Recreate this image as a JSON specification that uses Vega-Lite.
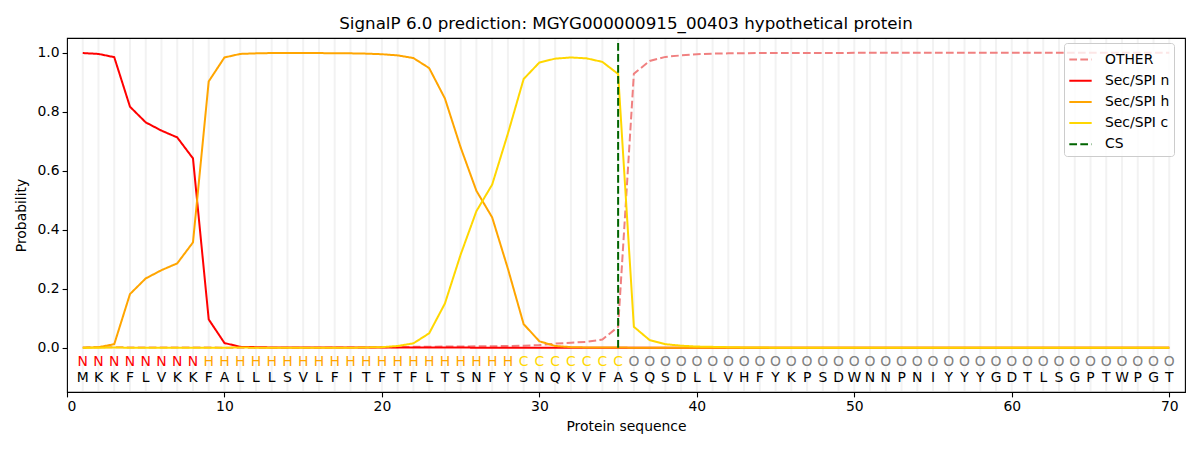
{
  "$schema": "https://vega.github.io/schema/vega-lite/v6.json",
  "width": 1118,
  "height": 354,
  "autosize": "none",
  "padding": {"left": 67, "top": 38, "right": 15, "bottom": 58},
  "title": {
    "text": "SignalP 6.0 prediction: MGYG000000915_00403 hypothetical protein",
    "fontSize": 16.7,
    "fontWeight": "normal",
    "font": "DejaVu Sans",
    "color": "black",
    "offset": 5
  },
  "config": {
    "font": "DejaVu Sans",
    "view": {"stroke": "black", "strokeWidth": 1.1},
    "axis": {
      "grid": false,
      "domain": false,
      "tickColor": "black",
      "tickSize": 4.9,
      "tickWidth": 1.1,
      "labelPadding": 3,
      "labelFontSize": 13.9,
      "labelColor": "black",
      "labelFont": "DejaVu Sans",
      "titleFontSize": 13.9,
      "titleFontWeight": "normal",
      "titleColor": "black",
      "titleFont": "DejaVu Sans"
    },
    "axisX": {"titlePadding": 6},
    "axisY": {"titlePadding": 9},
    "legend": {
      "orient": "none",
      "legendX": 997,
      "legendY": 5,
      "fillColor": "rgba(255,255,255,0.8)",
      "strokeColor": "#cccccc",
      "cornerRadius": 3,
      "padding": 4,
      "labelFontSize": 13.9,
      "labelColor": "black",
      "labelFont": "DejaVu Sans",
      "symbolType": "stroke",
      "symbolStrokeWidth": 2,
      "symbolSize": 500,
      "rowPadding": 1.2,
      "labelOffset": 12
    }
  },
  "data": {
    "values": [
      {"pos": 1, "aa": "M", "lab": "N", "other": 0.001, "n": 0.999, "h": 0.000, "c": 0.000},
      {"pos": 2, "aa": "K", "lab": "N", "other": 0.002, "n": 0.996, "h": 0.002, "c": 0.000},
      {"pos": 3, "aa": "K", "lab": "N", "other": 0.002, "n": 0.985, "h": 0.012, "c": 0.001},
      {"pos": 4, "aa": "F", "lab": "N", "other": 0.001, "n": 0.817, "h": 0.182, "c": 0.000},
      {"pos": 5, "aa": "L", "lab": "N", "other": 0.001, "n": 0.764, "h": 0.235, "c": 0.000},
      {"pos": 6, "aa": "V", "lab": "N", "other": 0.001, "n": 0.736, "h": 0.263, "c": 0.000},
      {"pos": 7, "aa": "K", "lab": "N", "other": 0.001, "n": 0.713, "h": 0.286, "c": 0.000},
      {"pos": 8, "aa": "K", "lab": "N", "other": 0.001, "n": 0.642, "h": 0.357, "c": 0.000},
      {"pos": 9, "aa": "F", "lab": "H", "other": 0.001, "n": 0.096, "h": 0.903, "c": 0.000},
      {"pos": 10, "aa": "A", "lab": "H", "other": 0.000, "n": 0.016, "h": 0.984, "c": 0.000},
      {"pos": 11, "aa": "L", "lab": "H", "other": 0.000, "n": 0.003, "h": 0.996, "c": 0.001},
      {"pos": 12, "aa": "L", "lab": "H", "other": 0.000, "n": 0.002, "h": 0.998, "c": 0.000},
      {"pos": 13, "aa": "L", "lab": "H", "other": 0.000, "n": 0.001, "h": 0.999, "c": 0.000},
      {"pos": 14, "aa": "S", "lab": "H", "other": 0.000, "n": 0.001, "h": 0.999, "c": 0.000},
      {"pos": 15, "aa": "V", "lab": "H", "other": 0.000, "n": 0.001, "h": 0.999, "c": 0.000},
      {"pos": 16, "aa": "L", "lab": "H", "other": 0.000, "n": 0.001, "h": 0.999, "c": 0.000},
      {"pos": 17, "aa": "F", "lab": "H", "other": 0.001, "n": 0.001, "h": 0.998, "c": 0.000},
      {"pos": 18, "aa": "I", "lab": "H", "other": 0.001, "n": 0.001, "h": 0.998, "c": 0.000},
      {"pos": 19, "aa": "T", "lab": "H", "other": 0.001, "n": 0.001, "h": 0.997, "c": 0.001},
      {"pos": 20, "aa": "F", "lab": "H", "other": 0.002, "n": 0.001, "h": 0.995, "c": 0.002},
      {"pos": 21, "aa": "T", "lab": "H", "other": 0.002, "n": 0.001, "h": 0.991, "c": 0.006},
      {"pos": 22, "aa": "F", "lab": "H", "other": 0.003, "n": 0.001, "h": 0.982, "c": 0.015},
      {"pos": 23, "aa": "L", "lab": "H", "other": 0.003, "n": 0.001, "h": 0.948, "c": 0.049},
      {"pos": 24, "aa": "T", "lab": "H", "other": 0.004, "n": 0.001, "h": 0.845, "c": 0.150},
      {"pos": 25, "aa": "S", "lab": "H", "other": 0.004, "n": 0.001, "h": 0.679, "c": 0.316},
      {"pos": 26, "aa": "N", "lab": "H", "other": 0.005, "n": 0.000, "h": 0.532, "c": 0.463},
      {"pos": 27, "aa": "F", "lab": "H", "other": 0.005, "n": 0.000, "h": 0.442, "c": 0.553},
      {"pos": 28, "aa": "Y", "lab": "H", "other": 0.006, "n": 0.000, "h": 0.268, "c": 0.726},
      {"pos": 29, "aa": "S", "lab": "C", "other": 0.007, "n": 0.000, "h": 0.080, "c": 0.911},
      {"pos": 30, "aa": "N", "lab": "C", "other": 0.009, "n": 0.000, "h": 0.022, "c": 0.967},
      {"pos": 31, "aa": "Q", "lab": "C", "other": 0.014, "n": 0.000, "h": 0.006, "c": 0.980},
      {"pos": 32, "aa": "K", "lab": "C", "other": 0.017, "n": 0.000, "h": 0.002, "c": 0.984},
      {"pos": 33, "aa": "V", "lab": "C", "other": 0.020, "n": 0.000, "h": 0.001, "c": 0.981},
      {"pos": 34, "aa": "F", "lab": "C", "other": 0.028, "n": 0.000, "h": 0.001, "c": 0.969},
      {"pos": 35, "aa": "A", "lab": "C", "other": 0.071, "n": 0.000, "h": 0.001, "c": 0.928},
      {"pos": 36, "aa": "S", "lab": "O", "other": 0.929, "n": 0.000, "h": 0.000, "c": 0.071},
      {"pos": 37, "aa": "Q", "lab": "O", "other": 0.972, "n": 0.000, "h": 0.000, "c": 0.026},
      {"pos": 38, "aa": "S", "lab": "O", "other": 0.986, "n": 0.000, "h": 0.000, "c": 0.012},
      {"pos": 39, "aa": "D", "lab": "O", "other": 0.991, "n": 0.000, "h": 0.000, "c": 0.007},
      {"pos": 40, "aa": "L", "lab": "O", "other": 0.995, "n": 0.000, "h": 0.000, "c": 0.004},
      {"pos": 41, "aa": "L", "lab": "O", "other": 0.997, "n": 0.000, "h": 0.000, "c": 0.003},
      {"pos": 42, "aa": "V", "lab": "O", "other": 0.998, "n": 0.000, "h": 0.000, "c": 0.002},
      {"pos": 43, "aa": "H", "lab": "O", "other": 0.998, "n": 0.000, "h": 0.000, "c": 0.001},
      {"pos": 44, "aa": "F", "lab": "O", "other": 0.999, "n": 0.000, "h": 0.000, "c": 0.001},
      {"pos": 45, "aa": "Y", "lab": "O", "other": 0.999, "n": 0.000, "h": 0.000, "c": 0.000},
      {"pos": 46, "aa": "K", "lab": "O", "other": 0.999, "n": 0.000, "h": 0.000, "c": 0.000},
      {"pos": 47, "aa": "P", "lab": "O", "other": 0.999, "n": 0.000, "h": 0.000, "c": 0.000},
      {"pos": 48, "aa": "S", "lab": "O", "other": 0.999, "n": 0.000, "h": 0.000, "c": 0.000},
      {"pos": 49, "aa": "D", "lab": "O", "other": 0.999, "n": 0.000, "h": 0.000, "c": 0.000},
      {"pos": 50, "aa": "W", "lab": "O", "other": 1.000, "n": 0.000, "h": 0.000, "c": 0.000},
      {"pos": 51, "aa": "N", "lab": "O", "other": 1.000, "n": 0.000, "h": 0.000, "c": 0.000},
      {"pos": 52, "aa": "N", "lab": "O", "other": 1.000, "n": 0.000, "h": 0.000, "c": 0.000},
      {"pos": 53, "aa": "P", "lab": "O", "other": 1.000, "n": 0.000, "h": 0.000, "c": 0.000},
      {"pos": 54, "aa": "N", "lab": "O", "other": 1.000, "n": 0.000, "h": 0.000, "c": 0.000},
      {"pos": 55, "aa": "I", "lab": "O", "other": 1.000, "n": 0.000, "h": 0.000, "c": 0.000},
      {"pos": 56, "aa": "Y", "lab": "O", "other": 1.000, "n": 0.000, "h": 0.000, "c": 0.000},
      {"pos": 57, "aa": "Y", "lab": "O", "other": 1.000, "n": 0.000, "h": 0.000, "c": 0.000},
      {"pos": 58, "aa": "Y", "lab": "O", "other": 1.000, "n": 0.000, "h": 0.000, "c": 0.000},
      {"pos": 59, "aa": "G", "lab": "O", "other": 1.000, "n": 0.000, "h": 0.000, "c": 0.000},
      {"pos": 60, "aa": "D", "lab": "O", "other": 1.000, "n": 0.000, "h": 0.000, "c": 0.000},
      {"pos": 61, "aa": "T", "lab": "O", "other": 1.000, "n": 0.000, "h": 0.000, "c": 0.000},
      {"pos": 62, "aa": "L", "lab": "O", "other": 1.000, "n": 0.000, "h": 0.000, "c": 0.000},
      {"pos": 63, "aa": "S", "lab": "O", "other": 1.000, "n": 0.000, "h": 0.000, "c": 0.000},
      {"pos": 64, "aa": "G", "lab": "O", "other": 1.000, "n": 0.000, "h": 0.000, "c": 0.000},
      {"pos": 65, "aa": "P", "lab": "O", "other": 1.000, "n": 0.000, "h": 0.000, "c": 0.000},
      {"pos": 66, "aa": "T", "lab": "O", "other": 1.000, "n": 0.000, "h": 0.000, "c": 0.000},
      {"pos": 67, "aa": "W", "lab": "O", "other": 1.000, "n": 0.000, "h": 0.000, "c": 0.000},
      {"pos": 68, "aa": "P", "lab": "O", "other": 1.000, "n": 0.000, "h": 0.000, "c": 0.000},
      {"pos": 69, "aa": "G", "lab": "O", "other": 1.000, "n": 0.000, "h": 0.000, "c": 0.000},
      {"pos": 70, "aa": "T", "lab": "O", "other": 1.000, "n": 0.000, "h": 0.000, "c": 0.000}
    ]
  },
  "encoding": {
    "x": {
      "field": "pos",
      "type": "quantitative",
      "title": "Protein sequence",
      "scale": {"domain": [0, 71], "nice": false, "zero": false},
      "axis": {"values": [0, 10, 20, 30, 40, 50, 60, 70], "format": "d"}
    }
  },
  "layer": [
    {
      "mark": {"type": "rule", "color": "#f2f2f2", "strokeWidth": 2},
      "encoding": {
        "y": {
          "datum": -0.147,
          "type": "quantitative",
          "title": "Probability",
          "scale": {"domain": [-0.15, 1.05], "nice": false, "zero": false},
          "axis": {"values": [0, 0.2, 0.4, 0.6, 0.8, 1.0], "format": ".1f"}
        },
        "y2": {"datum": 1.047}
      }
    },
    {
      "transform": [{"fold": ["other", "n", "h", "c"], "as": ["series", "p"]}],
      "mark": {"type": "line", "strokeWidth": 2},
      "encoding": {
        "y": {"field": "p", "type": "quantitative", "title": "Probability"},
        "color": {
          "field": "series",
          "type": "nominal",
          "scale": {
            "domain": ["other", "n", "h", "c", "cs"],
            "range": ["#f08080", "#ff0000", "#ffa500", "#ffd700", "#006400"]
          },
          "legend": {
            "title": null,
            "labelExpr": "{'other': 'OTHER', 'n': 'Sec/SPI n', 'h': 'Sec/SPI h', 'c': 'Sec/SPI c', 'cs': 'CS'}[datum.label]"
          }
        },
        "strokeDash": {
          "field": "series",
          "type": "nominal",
          "scale": {
            "domain": ["other", "n", "h", "c", "cs"],
            "range": [[7.7, 3.3], [1, 0], [1, 0], [1, 0], [7.7, 3.3]]
          },
          "legend": {
            "title": null,
            "labelExpr": "{'other': 'OTHER', 'n': 'Sec/SPI n', 'h': 'Sec/SPI h', 'c': 'Sec/SPI c', 'cs': 'CS'}[datum.label]"
          }
        }
      }
    },
    {
      "data": {"values": [{"pos": 35, "series": "cs", "lo": 0, "hi": 1.04}]},
      "mark": {"type": "rule", "strokeWidth": 2},
      "encoding": {
        "y": {"field": "lo", "type": "quantitative", "title": "Probability"},
        "y2": {"field": "hi"},
        "color": {"field": "series", "type": "nominal"},
        "strokeDash": {"field": "series", "type": "nominal"}
      }
    },
    {
      "mark": {"type": "text", "fontSize": 13.9, "font": "DejaVu Sans", "baseline": "middle"},
      "encoding": {
        "y": {"datum": -0.047, "type": "quantitative"},
        "text": {"field": "lab"},
        "color": {
          "condition": [
            {"test": "datum.lab == 'N'", "value": "#ff0000"},
            {"test": "datum.lab == 'H'", "value": "#ffa500"},
            {"test": "datum.lab == 'C'", "value": "#ffd700"}
          ],
          "value": "#808080"
        }
      }
    },
    {
      "mark": {"type": "text", "fontSize": 13.9, "font": "DejaVu Sans", "baseline": "middle", "color": "black"},
      "encoding": {
        "y": {"datum": -0.101, "type": "quantitative"},
        "text": {"field": "aa"}
      }
    }
  ]
}
